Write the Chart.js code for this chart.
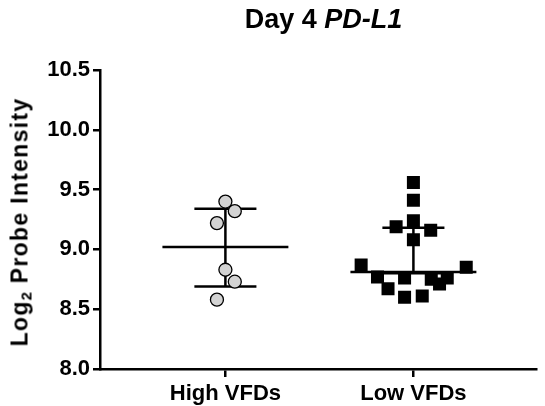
<!DOCTYPE html>
<html>
<head>
<meta charset="utf-8">
<script src="https://cdn.jsdelivr.net/npm/chart.js@4/dist/chart.umd.min.js"></script>
<style>
  html, body { margin: 0; padding: 0; background: #fff; }
  #wrap { position: relative; width: 545px; height: 406px; overflow: hidden; }
  canvas { position: absolute; left: 0; top: 0; }
  #title { position: absolute; left: 1px; width: 645px; top: 6px; text-align: center; line-height: 27px;
           font: bold 27px/27px "Liberation Sans", Arial, sans-serif; color: #000; white-space: nowrap; }
  #ytitle { position: absolute; left: 20px; top: 222px; transform: translate(-50%, -50%) rotate(-90deg);
            font: bold 23px/23px "Liberation Sans", Arial, sans-serif; letter-spacing: 1.3px; color: #000; white-space: nowrap; }
  #ytitle sub { font-size: 15px; vertical-align: -4px; line-height: 0; letter-spacing: 0; margin-right: 1px; }
</style>
</head>
<body>
<div id="wrap">
  <canvas id="c" width="545" height="406"></canvas>
  <div id="title">Day 4 <i>PD-L1</i></div>
  <div id="ytitle">Log<sub>2</sub> Probe Intensity</div>
</div>
<script>
// ---- data ----
const categories = ["High VFDs", "Low VFDs"];
const yTicks = [8.0, 8.5, 9.0, 9.5, 10.0, 10.5];

const highValues = [9.40, 9.32, 9.22, 8.83, 8.73, 8.58];
const highJitter = [0, 0.05, -0.045, 0, 0.05, -0.045];

const lowValues = [9.56, 9.41, 9.24, 9.19, 9.16, 9.08, 8.87, 8.85, 8.77, 8.76, 8.75, 8.76, 8.71, 8.67, 8.60, 8.61];
const lowJitter = [0, 0, 0, -0.092, 0.092, 0, -0.278, 0.281, -0.191, -0.047, 0.095, 0.18, 0.139, -0.135, -0.047, 0.047];

const centerValues = [9.02, 8.81];
const upperValues = [9.34, 9.18];
const lowerValues = [8.69, 8.80];

// ---- build ----
const centerHalf = 0.335, whiskerHalf = 0.165;
function seg(x1, y1, x2, y2) {
  return { type: 'line', data: [{x: x1, y: y1}, {x: x2, y: y2}], borderColor: '#000',
           borderWidth: 2.5, pointRadius: 0, fill: false, showLine: true, order: 5, borderCapStyle: 'butt' };
}
const lineSets = [];
categories.forEach((c, i) => {
  const x = i + 1;
  lineSets.push(seg(x - centerHalf, centerValues[i], x + centerHalf, centerValues[i]));
  lineSets.push(seg(x - whiskerHalf, upperValues[i], x + whiskerHalf, upperValues[i]));
  lineSets.push(seg(x - whiskerHalf, lowerValues[i], x + whiskerHalf, lowerValues[i]));
  lineSets.push(seg(x, lowerValues[i], x, upperValues[i]));
});

const highPts = highValues.map((v, i) => ({x: 1 + highJitter[i], y: v}));
const lowPts = lowValues.map((v, i) => ({x: 2 + lowJitter[i], y: v}));

const tickFont = { family: '"Liberation Sans", Arial, sans-serif', size: 22, weight: 'bold' };

new Chart(document.getElementById('c'), {
  type: 'scatter',
  data: {
    datasets: [
      { data: highPts, pointStyle: 'circle', pointRadius: 6.5, pointBackgroundColor: '#d3d3d3',
        pointBorderColor: '#000', pointBorderWidth: 1.3, order: 1 },
      { data: lowPts, pointStyle: 'rect', pointRadius: 9.2, pointBackgroundColor: '#000',
        pointBorderColor: '#000', pointBorderWidth: 0, order: 1 },
      ...lineSets
    ]
  },
  options: {
    responsive: false,
    devicePixelRatio: 1,
    animation: false,
    layout: { padding: { top: 70, left: 0, right: 0, bottom: 0 } },
    plugins: { legend: { display: false }, tooltip: { enabled: false }, title: { display: false } },
    scales: {
      x: {
        type: 'linear', min: 0.333, max: 2.651,
        afterBuildTicks: s => { s.ticks = categories.map((c, i) => ({ value: i + 1 })); },
        afterFit: s => { s.height = 37; },
        ticks: { callback: v => categories[v - 1], color: '#000', font: tickFont, padding: 4, maxRotation: 0, autoSkip: false },
        grid: { display: true, drawOnChartArea: false, drawTicks: true, tickLength: 8, lineWidth: 2.5, color: '#000' },
        border: { display: true, color: '#000', width: 2.5 }
      },
      y: {
        min: 8.0, max: 10.5,
        afterBuildTicks: s => { s.ticks = yTicks.map(v => ({ value: v })); },
        afterFit: s => { s.width = 100; },
        ticks: { callback: v => v.toFixed(1), color: '#000', font: tickFont, padding: 3 },
        grid: { display: true, drawOnChartArea: false, drawTicks: true, tickLength: 7, lineWidth: 2.5, color: '#000' },
        border: { display: true, color: '#000', width: 2.5 }
      }
    }
  }
});
</script>
</body>
</html>
